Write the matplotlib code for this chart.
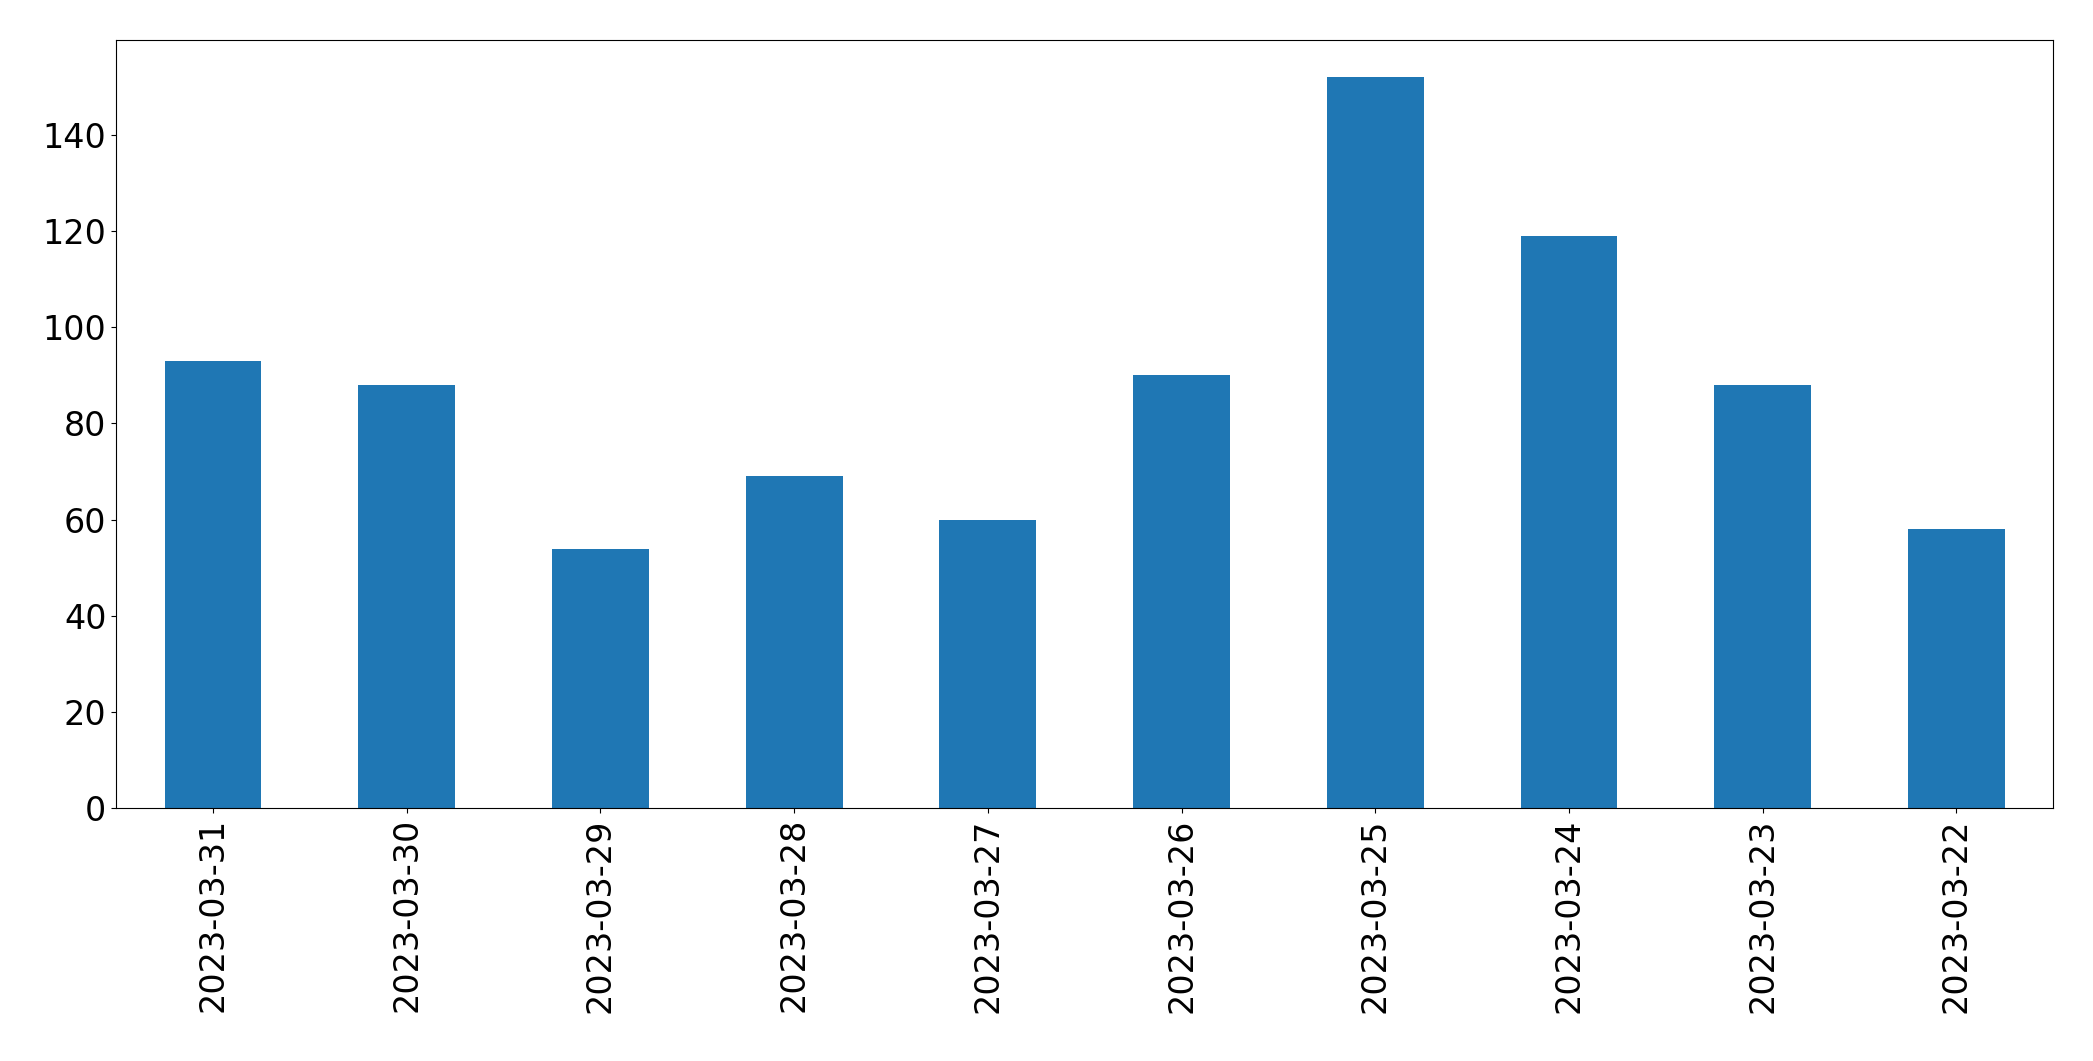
import matplotlib
matplotlib.use("Agg")
import matplotlib.pyplot as plt

dates = ["2023-03-31","2023-03-30","2023-03-29","2023-03-28","2023-03-27",
         "2023-03-26","2023-03-25","2023-03-24","2023-03-23","2023-03-22"]
values = [93, 88, 54, 69, 60, 90, 152, 119, 88, 58]

fig = plt.figure(figsize=(20.93, 10.61), dpi=100)
ax = fig.add_axes([0.0555, 0.238, 0.9255, 0.724])
x = range(len(dates))
ax.bar(x, values, width=0.5, color="#1f77b4")
ax.set_xticks(list(x))
ax.set_xticklabels(dates, rotation=90)
ax.set_xlim(-0.5, len(dates) - 0.5)
ax.set_ylim(0, 159.6)
ax.set_yticks(range(0, 141, 20))
ax.tick_params(labelsize=24)
fig.savefig("out.png", dpi=100)
